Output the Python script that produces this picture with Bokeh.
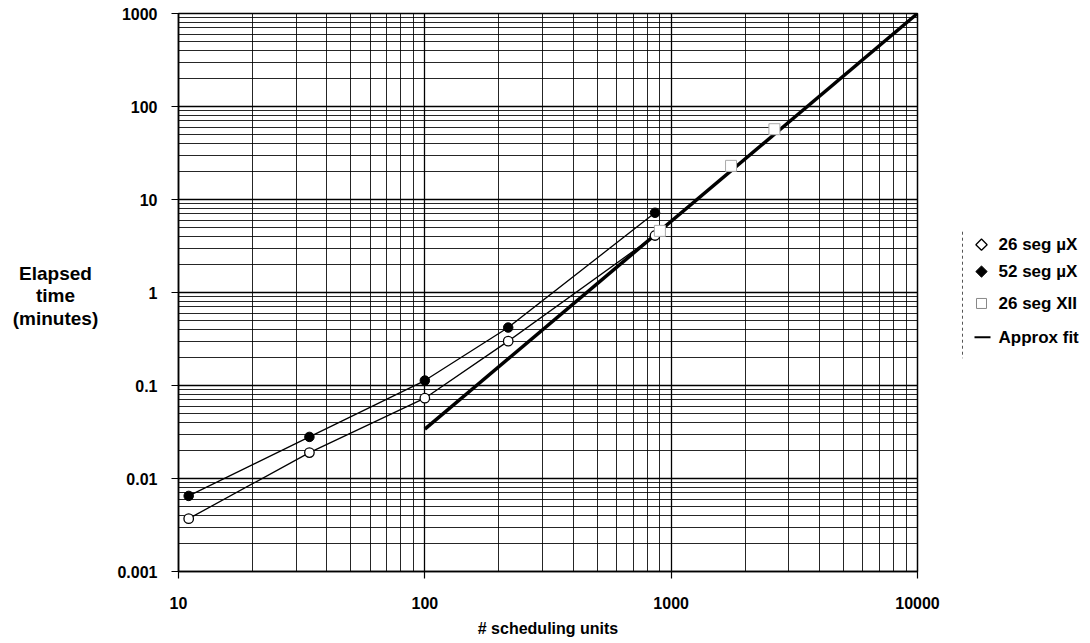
from bokeh.plotting import figure
from bokeh.layouts import row
from bokeh.models import FixedTicker, Range1d
from bokeh.core.properties import value
from bokeh.embed import file_html
from bokeh.resources import INLINE

FONT = "Liberation Sans"

# ---- data ----
x_units = [11, 34, 100, 218, 860]
t_26_mu = [0.0037, 0.019, 0.073, 0.30, 4.1]
t_52_mu = [0.0065, 0.028, 0.113, 0.42, 7.2]
x_xii = [900, 1750, 2625]
t_xii = [4.6, 23, 57]
x_fit = [100, 10000]
t_fit = [0.034, 1000]

x_ticks = [10, 100, 1000, 10000]
x_tick_labels = ["10", "100", "1000", "10000"]
y_ticks = [0.001, 0.01, 0.1, 1, 10, 100, 1000]
y_tick_labels = ["0.001", "0.01", "0.1", "1", "10", "100", "1000"]
legend_labels = ["26 seg \u00b5X", "52 seg \u00b5X", "26 seg XII", "Approx fit"]
x_title = "# scheduling units"
y_title_lines = ["Elapsed", "time", "(minutes)"]

x_minor = [m * 10 ** e for e in range(1, 4) for m in range(2, 10)]
y_minor = [m * 10.0 ** e for e in range(-3, 3) for m in range(2, 10)]

H = 639
FRAME_TOP, FRAME_BOTTOM = 14, 574   # page y of the plot frame (side panels align to it)

# ---- main plot ----
p = figure(width=835, height=H, x_axis_type="log", y_axis_type="log",
           x_range=Range1d(10, 10000), y_range=Range1d(0.001, 1000),
           min_border_left=71, min_border_right=25, min_border_top=13,
           min_border_bottom=66, toolbar_location=None, output_backend="svg")
p.background_fill_color = "white"
p.border_fill_color = "white"
p.outline_line_color = "black"
p.outline_line_width = 1.5

p.xaxis.ticker = FixedTicker(ticks=x_ticks, minor_ticks=x_minor)
p.yaxis.ticker = FixedTicker(ticks=y_ticks, minor_ticks=y_minor)
p.xaxis.major_label_overrides = dict(zip(x_ticks, x_tick_labels))
p.yaxis.major_label_overrides = dict(zip(y_ticks, y_tick_labels))

for ax in (p.xaxis, p.yaxis):
    ax.axis_line_color = "black"
    ax.axis_line_width = 1.5
    ax.major_tick_out = 7
    ax.major_tick_in = 0
    ax.major_tick_line_width = 1.2
    ax.minor_tick_out = 0
    ax.minor_tick_in = 0
    ax.major_label_text_font = FONT
    ax.major_label_text_font_style = "bold"
    ax.major_label_text_font_size = "16px"
    ax.major_label_text_color = "black"
p.xaxis.major_label_standoff = 18
p.yaxis.major_label_standoff = 14
p.xaxis.axis_label = x_title
p.xaxis.axis_label_text_font = FONT
p.xaxis.axis_label_text_font_style = "bold"
p.xaxis.axis_label_text_font_size = "16px"
p.xaxis.axis_label_text_color = "black"
p.xaxis.axis_label_standoff = 8

for g in (p.xgrid, p.ygrid):
    g.grid_line_color = "black"
    g.grid_line_width = 1.3
    g.minor_grid_line_color = "black"
    g.minor_grid_line_width = 1.0
    g.minor_grid_line_alpha = 0.85

p.line(x_fit, t_fit, line_color="black", line_width=3.5)
p.line(x_units, t_52_mu, line_color="black", line_width=1.3)
p.line(x_units, t_26_mu, line_color="black", line_width=1.3)
p.scatter(x_units, t_52_mu, marker="circle", size=9.5, fill_color="black",
          line_color="black")
p.scatter(x_units, t_26_mu, marker="circle", size=9.5, fill_color="white",
          line_color="black", line_width=1.3)
p.scatter(x_xii, t_xii, marker="square", size=11, fill_color="white",
          line_color="#aaaaaa", line_width=1)

# ---- left panel: y-axis title ----
left = figure(width=107, height=H, x_range=Range1d(1, 108),
              y_range=Range1d(FRAME_BOTTOM, FRAME_TOP),
              min_border=0, toolbar_location=None, output_backend="svg",
              x_axis_location=None, y_axis_location=None)
left.outline_line_color = None
left.grid.visible = False
left.text(x=[56, 56, 56], y=[275, 297, 320], text=y_title_lines,
          text_font=value(FONT), text_font_style="bold", text_font_size="19px",
          text_align="center", text_baseline="middle", text_color="black")

# ---- right panel: legend ----
leg = figure(width=145, height=H, x_range=Range1d(943, 1088),
             y_range=Range1d(FRAME_BOTTOM, FRAME_TOP),
             min_border=0, toolbar_location=None, output_backend="svg",
             x_axis_location=None, y_axis_location=None)
leg.outline_line_color = None
leg.grid.visible = False
leg.line([963, 963], [233, 360], line_color="#555555", line_width=1,
         line_dash="3 3")
ly = [246, 273, 305, 339]
leg.scatter([982], [ly[0]], marker="square", size=8, angle=0.785,
            fill_color="white", line_color="black", line_width=1.3)
leg.scatter([982], [ly[1]], marker="square", size=8, angle=0.785,
            fill_color="black", line_color="black")
leg.scatter([982], [ly[2]], marker="square", size=10, fill_color="white",
            line_color="#888888", line_width=1)
leg.line([975, 991], [ly[3], ly[3]], line_color="black", line_width=2)
leg.text(x=[999] * 4, y=ly, text=legend_labels, text_font=value(FONT),
         text_font_style="bold", text_font_size="17px", text_align="left",
         text_baseline="middle", text_color="black")

layout = row(left, p, leg)
open("out.html", "w").write(file_html(layout, INLINE))
